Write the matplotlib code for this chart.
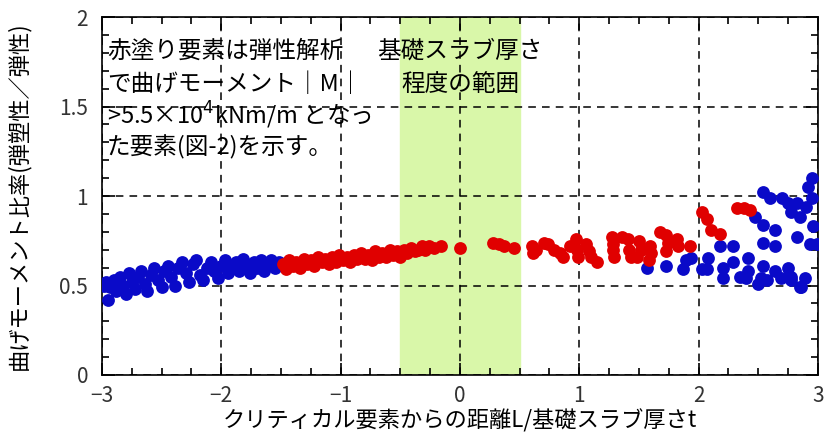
import matplotlib
matplotlib.use("Agg")
import matplotlib.pyplot as plt
from matplotlib.ticker import MultipleLocator

plt.rcParams['font.family'] = ['Noto Sans CJK JP', 'DejaVu Sans']

# blue elements, left side
blue_left_x = [-2.98, -2.97, -2.95, -2.93, -2.90, -2.88, -2.85, -2.82, -2.80, -2.77,
               -2.75, -2.72, -2.70, -2.67, -2.64, -2.62, -2.59, -2.56, -2.53, -2.50,
               -2.48, -2.45, -2.42, -2.39, -2.36, -2.33, -2.30, -2.27, -2.24, -2.21,
               -2.18, -2.15, -2.12, -2.09, -2.06, -2.03, -2.00, -1.97, -1.94, -1.91,
               -1.88, -1.85, -1.82, -1.79, -1.76, -1.73, -1.70, -1.67, -1.64, -1.61,
               -1.58, -1.55, -1.52]
blue_left_y = [0.50, 0.52, 0.42, 0.49, 0.53, 0.47, 0.55, 0.50, 0.45, 0.57,
               0.52, 0.48, 0.55, 0.58, 0.51, 0.47, 0.56, 0.60, 0.53, 0.49,
               0.58, 0.61, 0.55, 0.50, 0.60, 0.63, 0.57, 0.52, 0.62, 0.64,
               0.56, 0.53, 0.60, 0.63, 0.58, 0.54, 0.61, 0.64, 0.57, 0.60,
               0.63, 0.58, 0.65, 0.61, 0.57, 0.63, 0.60, 0.64, 0.58, 0.62,
               0.64, 0.60, 0.63]

# blue elements, right side
blue_right_x = [1.57, 1.73, 1.87, 1.89, 1.94, 2.03, 2.07, 2.08, 2.18, 2.20,
                2.20, 2.29, 2.29, 2.35, 2.41, 2.41, 2.40, 2.47, 2.50, 2.54,
                2.54, 2.54, 2.54, 2.57, 2.60, 2.64, 2.64, 2.64, 2.69, 2.70,
                2.75, 2.75, 2.77, 2.77, 2.82, 2.82, 2.85, 2.85, 2.86, 2.89,
                2.90, 2.92, 2.95, 2.95, 2.96, 2.93, 2.99, 2.52, 2.77]
blue_right_y = [0.60, 0.61, 0.59, 0.64, 0.655, 0.59, 0.59, 0.655, 0.72, 0.60,
                0.54, 0.72, 0.63, 0.55, 0.655, 0.58, 0.54, 0.885, 0.51, 1.02,
                0.84, 0.74, 0.61, 0.53, 0.99, 0.81, 0.72, 0.58, 0.54, 0.99,
                0.96, 0.60, 0.91, 0.55, 0.96, 0.77, 0.88, 0.49, 0.49, 0.54,
                0.94, 1.05, 1.10, 0.99, 0.83, 0.73, 0.73, 0.54, 0.53]

# red elements (|M| > 5.5e4 kNm/m)
red_x = [-1.48, -1.46, -1.43, -1.40, -1.37, -1.34, -1.31, -1.28, -1.25, -1.22,
         -1.19, -1.16, -1.13, -1.10, -1.07, -1.04, -1.01, -0.98, -0.95, -0.92,
         -0.89, -0.86, -0.83, -0.80, -0.77, -0.74, -0.71, -0.68, -0.65, -0.62,
         -0.59, -0.56, -0.53, -0.50, -0.47, -0.44, -0.41, -0.38, -0.35, -0.32,
         -0.29, -0.26, -0.22, -0.16, 0.00, 0.28, 0.33, 0.37, 0.45,
         0.60, 0.61, 0.64, 0.70, 0.74, 0.79, 0.84, 0.86, 0.92, 0.97,
         0.98, 0.99, 1.06, 1.08, 1.10, 1.15, 1.27, 1.28, 1.28, 1.29,
         1.36, 1.41, 1.42, 1.43, 1.50, 1.52, 1.48, 1.59, 1.58, 1.60,
         1.68, 1.73, 1.74, 1.73, 1.82, 1.83, 1.93, 2.03, 2.07, 2.10,
         2.18, 2.32, 2.38, 2.43]
red_y = [0.62, 0.59, 0.64, 0.61, 0.63, 0.60, 0.65, 0.62, 0.64, 0.61,
         0.66, 0.63, 0.65, 0.62, 0.66, 0.63, 0.67, 0.64, 0.66, 0.63,
         0.67, 0.65, 0.68, 0.65, 0.67, 0.64, 0.69, 0.66, 0.68, 0.66,
         0.70, 0.67, 0.69, 0.66, 0.70, 0.68, 0.71, 0.69, 0.70, 0.72,
         0.70, 0.72, 0.71, 0.72, 0.71, 0.74, 0.73, 0.72, 0.71,
         0.72, 0.68, 0.70, 0.74, 0.73, 0.70, 0.68, 0.66, 0.72, 0.76,
         0.70, 0.66, 0.73, 0.69, 0.66, 0.63, 0.77, 0.73, 0.70, 0.66,
         0.77, 0.76, 0.70, 0.66, 0.75, 0.70, 0.66, 0.72, 0.64, 0.68,
         0.80, 0.78, 0.74, 0.69, 0.76, 0.72, 0.72, 0.91, 0.87, 0.81,
         0.79, 0.935, 0.935, 0.92]

xticks = [-3, -2, -1, 0, 1, 2, 3]
xticklabels = ['\u22123', '\u22122', '\u22121', '0', '1', '2', '3']
yticks = [0, 0.5, 1, 1.5, 2]
yticklabels = ['0', '0.5', '1', '1.5', '2']

band = (-0.5, 0.5)
note_lines = ["赤塗り要素は弾性解析",
              "で曲げモーメント｜M｜",
              ">5.5×10$^4$kNm/m となっ",
              "た要素(図-2)を示す。"]
band_lines = ["基礎スラブ厚さ", "程度の範囲"]
line_y = [1.81, 1.625, 1.45, 1.27]

fig = plt.figure(figsize=(8.25, 4.43), dpi=100)
ax = fig.add_axes([0.1236, 0.1535, 0.8679, 0.8081])

ax.axvspan(band[0], band[1], color='#d9f7a9', zorder=0)
ax.grid(True, which='major', color='black', linestyle=(0, (5, 4)), linewidth=1.1, zorder=1)

ms = 85
ax.scatter(blue_left_x, blue_left_y, s=ms, color='#0a0ac8', linewidths=0, zorder=3)
ax.scatter(blue_right_x, blue_right_y, s=ms, color='#0a0ac8', linewidths=0, zorder=3)
ax.scatter(red_x, red_y, s=ms, color='#e00000', linewidths=0, zorder=4)

ax.set_xlim(-3, 3)
ax.set_ylim(0, 2)
ax.set_xticks(xticks)
ax.set_xticklabels(xticklabels)
ax.set_yticks(yticks)
ax.set_yticklabels(yticklabels)
ax.xaxis.set_minor_locator(MultipleLocator(0.25))
ax.yaxis.set_minor_locator(MultipleLocator(0.1))
ax.tick_params(which='both', direction='in', top=True, right=True, labelsize=15,
               width=1.2, labelcolor='#333333')
ax.tick_params(which='major', length=9)
ax.tick_params(axis='y', which='major', pad=10)
ax.tick_params(axis='x', which='major', pad=7)
ax.tick_params(which='minor', length=5)
for s in ax.spines.values():
    s.set_linewidth(1.2)

ax.set_xlabel("クリティカル要素からの距離L/基礎スラブ厚さt", fontsize=16, labelpad=2)
ax.set_ylabel("曲げモーメント比率(弾塑性／弾性)", fontsize=16)
ax.yaxis.set_label_coords(-0.1, 0.5)

for txt, y in zip(note_lines, line_y):
    ax.text(-2.96, y, txt, fontsize=17, va='center', ha='left', zorder=5)
for txt, y in zip(band_lines, line_y):
    ax.text(0.0, y, txt, fontsize=17, va='center', ha='center', zorder=5)

fig.savefig("out.png", dpi=100)
